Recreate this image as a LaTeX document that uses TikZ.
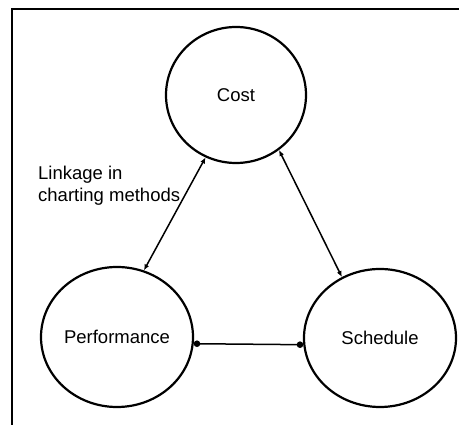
\documentclass[tikz,border=0pt]{standalone}
\usepackage{fontspec}
\setmainfont{Liberation Sans}
\usetikzlibrary{shapes.geometric,arrows.meta}
\begin{document}
\begin{tikzpicture}[x=1pt,y=-1pt,
  circ/.style={draw,ellipse,line width=2.2pt,inner sep=0pt,font=\fontsize{18.5}{22}\selectfont},
  link/.style={line width=1.5pt,{Latex[length=6pt,width=5pt]}-{Latex[length=6pt,width=5pt]}},
  dotlink/.style={line width=1.5pt,{Circle[length=6.5pt]}-{Circle[length=6.5pt]}},
  lbl/.style={anchor=base west,inner sep=0pt,font=\fontsize{18.5}{22}\selectfont}]
  \useasboundingbox (0,0) rectangle (459,427);
  \fill[white] (0,0) rectangle (459,427);
  % partial frame: top and left edges
  \draw[line width=1.2pt] (459,9) -- (12,9) -- (12,425);

  \node[circ,minimum width=140pt,minimum height=136pt] (cost) at (236,95) {Cost};
  \node[circ,minimum width=152pt,minimum height=140pt] (perf) at (117,337) {Performance};
  \node[circ,minimum width=152pt,minimum height=138pt] (sched) at (380,338) {Schedule};

  \draw[link] (cost.244) -- (perf.68);
  \draw[link] (cost.308) -- (sched.122);
  \draw[dotlink] (perf.-5) -- (sched.185);

  \node[lbl] (l1) at (38,180) {Linkage in};
  \node[lbl] (l2) at (38,202) {charting methods};
\end{tikzpicture}
\end{document}
